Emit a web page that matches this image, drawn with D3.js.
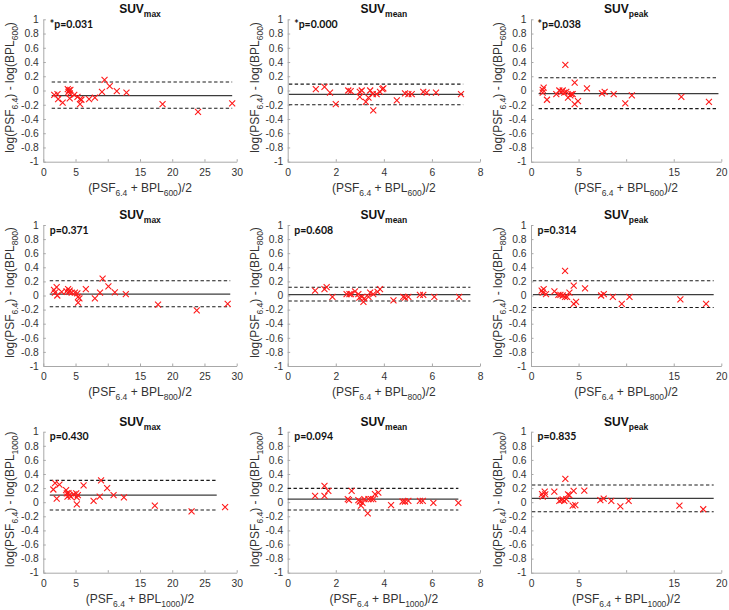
<!DOCTYPE html>
<html><head><meta charset="utf-8">
<script src="https://cdn.jsdelivr.net/npm/d3@7"></script>
<style>
body{margin:0;background:#fff}
svg{display:block}
text{font-family:"Liberation Sans",Arial,sans-serif}
</style>
</head><body><svg id="c" width="729" height="610"></svg>
<script>
// ---------- DATA ----------
const rowRefs = ["600", "800", "1000"];
const colMetrics = ["max", "mean", "peak"];
const pLabels = ["*p=0.031","*p=0.000","*p=0.038","p=0.371","p=0.608","p=0.314","p=0.430","p=0.094","p=0.835"];

const yTickVals = [-1,-0.8,-0.6,-0.4,-0.2,0,0.2,0.4,0.6,0.8,1];
const yTickLabels = ["-1","-0.8","-0.6","-0.4","-0.2","0","0.2","0.4","0.6","0.8","1"];
const maxTickVals = [0,5,10,15,20,25,30];
const maxTickLabels = ["0","5","","15","20","25","30"];
const meanTickVals = [0,2,4,6,8];
const meanTickLabels = ["0","2","4","6","8"];
const peakTickVals = [0,5,10,15,20];
const peakTickLabels = ["0","5","","15","20"];

// SUVmax, BPL600
const max600X = [1.7,2.2,2.3,3.0,3.8,3.9,4.0,4.1,4.2,4.1,4.8,5.3,5.7,5.7,5.9,7.1,8.0,9.1,9.5,10.3,11.4,12.9,18.5,24.0,29.3];
const max600Y = [-0.06,-0.05,-0.12,-0.17,0.02,-0.02,0.0,-0.04,0.01,-0.11,-0.06,-0.09,-0.12,-0.19,-0.13,-0.12,-0.10,-0.02,0.15,0.06,-0.01,-0.03,-0.19,-0.30,-0.18];
const max600Lines = [-0.073, 0.119, -0.25]; // mean, upper, lower
const max600Span = [1.3, 29.3];
// SUVmean, BPL600
const mean600X = [1.17,1.53,1.76,2.0,2.52,2.62,3.0,3.0,3.08,3.25,3.36,3.43,3.54,3.56,3.70,3.84,3.94,3.98,4.54,4.88,5.02,5.16,5.64,5.78,6.17,7.21];
const mean600Y = [0.02,0.05,-0.03,-0.19,0.0,-0.01,-0.02,-0.09,0.0,-0.16,-0.10,0.0,-0.05,-0.28,-0.05,-0.02,0.02,0.03,-0.14,-0.04,-0.05,-0.05,-0.02,-0.03,-0.03,-0.05];
const mean600Lines = [-0.055, 0.09, -0.20];
const mean600Span = [0.05, 7.3];
// SUVpeak, BPL600
const peak600X = [1.23,1.33,1.23,1.68,2.66,2.98,3.19,3.33,3.5,3.61,3.71,3.89,4.13,4.24,4.38,4.59,4.59,4.94,5.88,7.46,7.74,8.69,9.91,10.6,15.8,18.7];
const peak600Y = [0.01,0.04,-0.03,-0.13,-0.05,0.0,-0.02,0.0,-0.03,0.36,-0.02,-0.10,-0.07,-0.05,-0.05,0.11,-0.19,-0.15,0.03,-0.04,-0.02,-0.05,-0.18,-0.07,-0.09,-0.16];
const peak600Lines = [-0.045, 0.18, -0.255];
const peak600Span = [0.8, 19.7];
// SUVmax, BPL800
const max800X = [1.66,2.07,1.8,2.17,2.85,3.6,3.85,4.0,4.1,4.4,4.9,5.28,5.4,5.4,5.6,6.6,8.0,8.8,9.2,10.1,11.1,12.8,17.8,23.8,28.6];
const max800Y = [0.08,0.12,0.04,0.0,0.05,0.06,0.09,0.05,0.07,0.04,0.04,0.03,-0.02,-0.10,-0.04,0.09,-0.04,0.04,0.24,0.13,0.045,0.02,-0.13,-0.21,-0.12];
const max800Lines = [0.02, 0.21, -0.16];
const max800Span = [1.0, 29.0];
// SUVmean, BPL800
const mean800X = [1.14,1.53,1.62,1.86,2.45,2.57,2.63,2.8,2.94,2.98,3.08,3.15,3.19,3.36,3.43,3.56,3.74,3.84,4.4,4.81,4.88,5.02,5.5,5.64,6.1,7.13];
const mean800Y = [0.07,0.09,0.12,-0.02,0.02,0.02,0.02,0.06,0.02,-0.03,-0.02,-0.09,-0.04,-0.02,0.04,0.02,0.05,0.09,-0.07,-0.02,-0.03,-0.02,0.01,0.01,-0.02,-0.02];
const mean800Lines = [0.012, 0.116, -0.078];
const mean800Span = [0.03, 7.6];
// SUVpeak, BPL800
const peak800X = [1.12,1.33,1.23,1.58,2.46,2.88,3.09,3.33,3.58,3.58,3.79,4.04,4.49,4.49,4.74,5.68,7.37,7.65,8.6,9.54,10.35,15.7,18.4];
const peak800Y = [0.07,0.09,0.04,0.02,0.06,0.01,0.01,0.0,0.35,-0.02,-0.02,0.04,0.14,-0.12,-0.09,0.10,0.0,0.02,-0.02,-0.12,-0.02,-0.055,-0.12];
const peak800Lines = [0.012, 0.21, -0.17];
const peak800Span = [0.2, 19.2];
// SUVmax, BPL1000
const max1000X = [1.56,1.82,2.08,2.5,3.54,3.65,3.75,3.9,4.06,4.27,4.7,5.1,5.2,5.2,5.36,6.25,7.8,8.75,8.96,9.9,10.9,12.5,17.3,23.0,28.2];
const max1000Y = [0.18,0.27,0.05,0.25,0.17,0.125,0.08,0.13,0.10,0.08,0.11,0.125,0.07,-0.03,0.10,0.24,0.02,0.08,0.31,0.20,0.10,0.07,-0.05,-0.13,-0.07];
const max1000Lines = [0.10, 0.31, -0.11];
const max1000Span = [1.0, 26.9];
// SUVmean, BPL1000
const mean1000X = [1.14,1.53,1.53,1.69,2.5,2.55,2.66,2.94,3.0,3.05,3.11,3.19,3.33,3.36,3.47,3.56,3.63,3.77,4.3,4.78,4.88,5.02,5.5,5.62,6.06,7.1];
const mean1000Y = [0.09,0.23,0.09,0.16,0.045,0.03,0.16,0.03,0.01,-0.05,-0.01,0.045,-0.16,0.045,0.045,0.045,0.115,0.135,-0.04,0.01,0.01,0.02,0.02,0.02,-0.01,-0.01];
const mean1000Lines = [0.045, 0.196, -0.11];
const mean1000Span = [0.0, 7.1];
// SUVpeak, BPL1000
const peak1000X = [1.16,1.23,1.44,1.5,2.45,2.98,3.19,3.33,3.5,3.61,3.71,3.89,4.03,4.38,4.48,4.66,5.6,7.29,7.64,8.44,9.39,10.26,15.6,18.1];
const peak1000Y = [0.115,0.08,0.15,0.11,0.15,0.02,0.03,0.04,0.02,0.33,0.045,0.11,0.10,-0.05,0.16,-0.04,0.165,0.03,0.05,0.02,-0.06,0.02,-0.05,-0.10];
const peak1000Lines = [0.054, 0.243, -0.135];
const peak1000Span = [0.1, 19.2];

// ---------- BUILD ----------
const series = [
  [max600X, max600Y, max600Lines, max600Span],
  [mean600X, mean600Y, mean600Lines, mean600Span],
  [peak600X, peak600Y, peak600Lines, peak600Span],
  [max800X, max800Y, max800Lines, max800Span],
  [mean800X, mean800Y, mean800Lines, mean800Span],
  [peak800X, peak800Y, peak800Lines, peak800Span],
  [max1000X, max1000Y, max1000Lines, max1000Span],
  [mean1000X, mean1000Y, mean1000Lines, mean1000Span],
  [peak1000X, peak1000Y, peak1000Lines, peak1000Span]
];
const xAxes = {
  max: {dom:[0,30], vals:maxTickVals, labels:maxTickLabels},
  mean:{dom:[0,8], vals:meanTickVals, labels:meanTickLabels},
  peak:{dom:[0,20], vals:peakTickVals, labels:peakTickLabels}
};

const colLeft = [43.3, 287.7, 531], colRight = [236.7, 480, 721.3];
const rowTop = [19.3, 225, 431.7], rowBottom = [161.7, 366, 572.7];

const svg = d3.select("#c");
svg.append("rect").attr("width",729).attr("height",610).attr("fill","#fff");

const axisColor = "#a8a8a8";
const textColor = "#333";

for (let r = 0; r < 3; r++) {
  for (let c = 0; c < 3; c++) {
    const idx = r*3 + c;
    const [xs, ys, lines, span] = series[idx];
    const metric = colMetrics[c];
    const ax = xAxes[metric];
    const x = d3.scaleLinear().domain(ax.dom).range([colLeft[c], colRight[c]]);
    const y = d3.scaleLinear().domain([-1,1]).range([rowBottom[r], rowTop[r]]);
    const g = svg.append("g");

    const ya = g.append("g").attr("transform",`translate(${colLeft[c]},0)`)
      .call(d3.axisLeft(y).tickValues(yTickVals).tickFormat((d,i)=>yTickLabels[i])
        .tickSizeInner(-2.5).tickSizeOuter(0).tickPadding(4.5));
    const xa = g.append("g").attr("transform",`translate(0,${rowBottom[r]})`)
      .call(d3.axisBottom(x).tickValues(ax.vals).tickFormat((d,i)=>ax.labels[i])
        .tickSizeInner(-2.5).tickSizeOuter(0).tickPadding(6.5));
    [ya, xa].forEach(a => {
      a.select(".domain").attr("stroke", axisColor).attr("stroke-width",1);
      a.selectAll(".tick line").attr("stroke", axisColor);
      a.selectAll(".tick text").attr("fill", textColor)
        .style("font-family","'Liberation Sans',Arial,sans-serif").style("font-size","10.3px");
    });

    const [mLine, up, lo] = lines;
    g.append("line").attr("x1",x(span[0])).attr("x2",x(span[1]))
      .attr("y1",y(mLine)).attr("y2",y(mLine))
      .attr("stroke","#3c3c3c").attr("stroke-width",1.3);
    [up, lo].forEach(v => {
      g.append("line").attr("x1",x(span[0])).attr("x2",x(span[1]))
        .attr("y1",y(v)).attr("y2",y(v))
        .attr("stroke","#1a1a1a").attr("stroke-width",1.1).attr("stroke-dasharray","3.4,2.4");
    });

    const pts = xs.map((v,i)=>[v, ys[i]]);
    g.append("g").selectAll("path").data(pts).join("path")
      .attr("transform", d=>`translate(${x(d[0])},${y(d[1])})`)
      .attr("d","M-3,-3L3,3M-3,3L3,-3")
      .attr("stroke","#ff1a1a").attr("stroke-width",1.1).attr("fill","none");

    g.append("text").attr("x", colLeft[c]+6.5).attr("y", rowTop[r]+8.5)
      .attr("fill","#111").style("font-family","Lato,'Liberation Sans',sans-serif")
      .style("font-weight","700").style("font-size","10.5px").text(pLabels[idx]);

    const cx = (colLeft[c]+colRight[c])/2;
    const t = g.append("text").attr("x",cx).attr("y",rowTop[r]-6)
      .attr("text-anchor","middle").attr("fill","#111")
      .style("font-weight","700").style("font-size","12px");
    t.append("tspan").text("SUV");
    t.append("tspan").attr("dy",4).style("font-size","8.5px").text(metric);

    const xl = g.append("text").attr("x",cx).attr("y",rowBottom[r]+30)
      .attr("text-anchor","middle").attr("fill",textColor).style("font-size","12px");
    xl.append("tspan").text("(PSF");
    xl.append("tspan").attr("dy",4).style("font-size","8.5px").text("6.4");
    xl.append("tspan").attr("dy",-4).text(" + BPL");
    xl.append("tspan").attr("dy",4).style("font-size","8.5px").text(rowRefs[r]);
    xl.append("tspan").attr("dy",-4).text(")/2");

    const cy = (rowTop[r]+rowBottom[r])/2 - 3;
    const yl = g.append("text").attr("transform",`translate(${colLeft[c]-29},${cy}) rotate(-90)`)
      .attr("text-anchor","middle").attr("fill",textColor).style("font-size","12px");
    yl.append("tspan").text("log(PSF");
    yl.append("tspan").attr("dy",4).style("font-size","8.5px").text("6.4");
    yl.append("tspan").attr("dy",-4).text(") - log(BPL");
    yl.append("tspan").attr("dy",4).style("font-size","8.5px").text(rowRefs[r]);
    yl.append("tspan").attr("dy",-4).text(")");
  }
}
</script>
</body></html>
